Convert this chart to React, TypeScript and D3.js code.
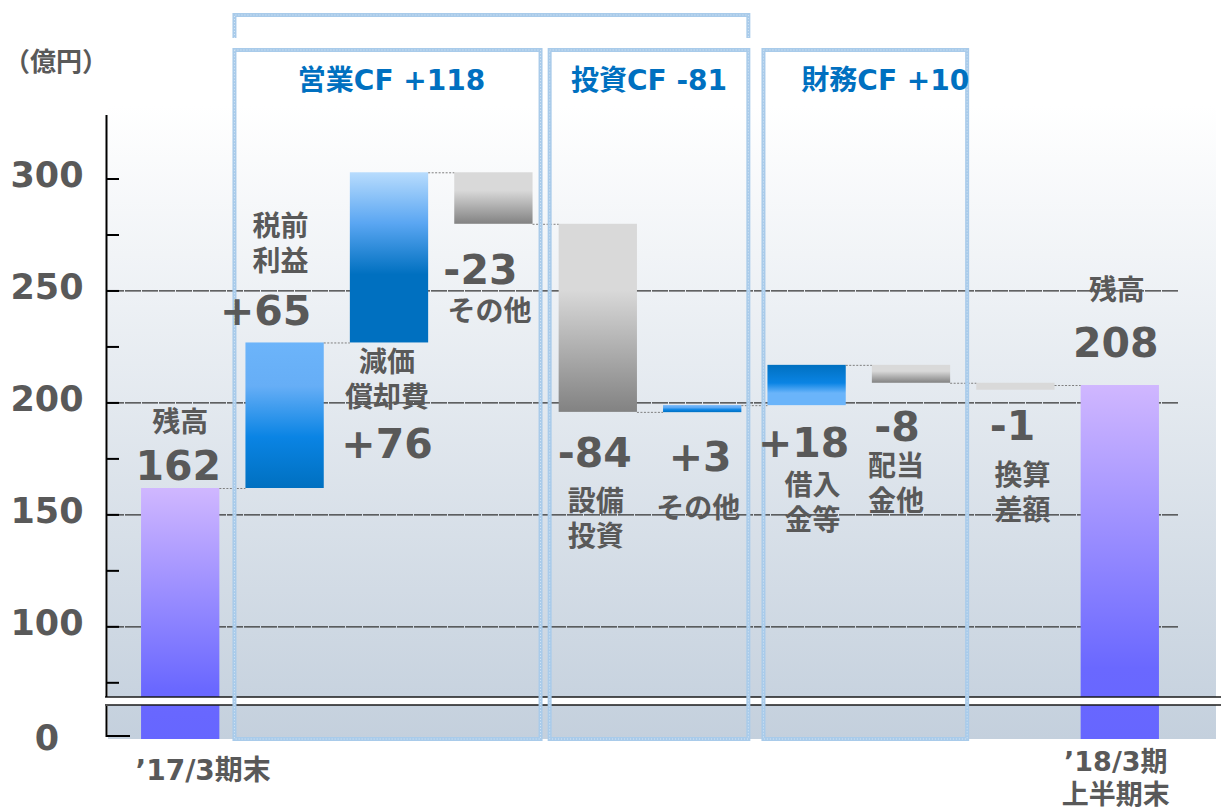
import React, { useLayoutEffect } from "react";
import * as d3 from "d3";

// ---------- data ----------
const categories = [
  "’17/3期末",
  "税前利益",
  "減価償却費",
  "その他(営業)",
  "設備投資",
  "その他(投資)",
  "借入金等",
  "配当金他",
  "換算差額",
  "’18/3期上半期末",
];
const values = [162, 65, 76, -23, -84, 3, 18, -8, -1, 208];
const isTotal = [true, false, false, false, false, false, false, false, false, true];
const valueLabels = ["162", "+65", "+76", "-23", "-84", "+3", "+18", "-8", "-1", "208"];
const barLabelLines = [
  ["残高"],
  ["税前", "利益"],
  ["減価", "償却費"],
  ["その他"],
  ["設備", "投資"],
  ["その他"],
  ["借入", "金等"],
  ["配当", "金他"],
  ["換算", "差額"],
  ["残高"],
];
const xAxisLabels: string[][] = [
  ["’17/3期末"],
  [],
  [],
  [],
  [],
  [],
  [],
  [],
  [],
  ["’18/3期", "上半期末"],
];
const groupNames = ["営業CF +118", "投資CF -81", "財務CF +10"];
const groupFirst = [1, 4, 6];
const groupLast = [3, 5, 7];
const yMajorTicks = [100, 150, 200, 250, 300];
const yMinorTicks = [75, 125, 175, 225, 275];
const gridValues = [100, 150, 200, 250];
const unitLabel = "（億円）";

// ---------- layout (annotation placement) ----------
const numLayout = [
  { dx: -2, cy: 465 },
  { dx: -19, cy: 310 },
  { dx: -2, cy: 443 },
  { dx: -13, cy: 269 },
  { dx: -3, cy: 452 },
  { dx: -2, cy: 456 },
  { dx: -3, cy: 442 },
  { dx: -14, cy: 426 },
  { dx: -3, cy: 425 },
  { dx: -4, cy: 342 },
];
const textLayout = [
  { dx: 0, cy: 421 },
  { dx: -4, cy: 225 },
  { dx: -2, cy: 361 },
  { dx: -4, cy: 310 },
  { dx: -2, cy: 500 },
  { dx: -4, cy: 507 },
  { dx: 6, cy: 484 },
  { dx: -15, cy: 465 },
  { dx: 7, cy: 474 },
  { dx: -3, cy: 289 },
];
const groupLabelDx = [4, 0, 20];
const boxPadL = [11, 9, 4];
const boxPadR = [8, 7, 17];

const W = 1221;
const H = 810;
const GRAY = "#595959";
const BLUE = "#0070c0";
const LATIN = "'DejaVu Sans', 'Noto Sans CJK JP', sans-serif";
const CJK = "'Noto Sans CJK JP', 'DejaVu Sans', sans-serif";
const MIN_BAR_PX = 7;

export default function App() {
  useLayoutEffect(() => {
    document.body.style.margin = "0";
    document.body.style.overflow = "hidden";
  }, []);

  const idx = d3.range(categories.length);
  const x = d3
    .scaleBand<number>()
    .domain(idx)
    .range([128, 1172])
    .paddingInner(0.25)
    .paddingOuter(0.125);
  const bw = x.bandwidth();
  const y = d3.scaleLinear().domain([0, 70, 300]).range([739, 694, 179]);

  // running totals
  const starts: number[] = [];
  const ends: number[] = [];
  let run = 0;
  values.forEach((v, i) => {
    if (isTotal[i]) {
      starts.push(0);
      ends.push(v);
      run = v;
    } else {
      starts.push(run);
      run = run + v;
      ends.push(run);
    }
  });

  const fillFor = (i: number) => {
    const v = values[i];
    if (isTotal[i]) return "url(#gTotal)";
    if (v < 0) return Math.abs(v) <= 1 ? "#d9d9d9" : "url(#gDown)";
    if (i === 2) return "url(#gUpB)";
    if (i === 6) return "url(#gUpFlip)";
    return "url(#gUpA)";
  };

  const plotLeft = 108;
  const plotRight = 1216;
  const plotTop = 105;
  const plotBottom = 739;
  const breakTop = 697;
  const breakBottom = 705;
  const axisX = 106.5;
  const zeroTickY = y(0) - 3;

  const boxes = groupNames.map((name, g) => {
    const left = (x(groupFirst[g]) as number) - boxPadL[g];
    const right = (x(groupLast[g]) as number) + bw + boxPadR[g];
    return { name, left, right, top: 50, bottom: 739 };
  });

  const boxStroke = (d: string, key: string) => (
    <g key={key}>
      <path d={d} fill="none" stroke="#a9cbea" strokeWidth={4} />
      <path
        d={d}
        fill="none"
        stroke="#ffffff"
        strokeWidth={1}
        strokeDasharray="1,2"
        opacity={0.55}
      />
    </g>
  );

  return (
    <svg width={W} height={H} style={{ display: "block" }}>
      <defs>
        <linearGradient id="gBg" x1="0" y1="0" x2="0" y2="1">
          <stop offset="0" stopColor="#ffffff" />
          <stop offset="1" stopColor="#c4d0dd" />
        </linearGradient>
        <linearGradient id="gTotal" x1="0" y1="0" x2="0" y2="1">
          <stop offset="0" stopColor="#d0b7ff" />
          <stop offset="0.8" stopColor="#6a68ff" />
          <stop offset="1" stopColor="#6666ff" />
        </linearGradient>
        <linearGradient id="gUpA" x1="0" y1="0" x2="0" y2="1">
          <stop offset="0" stopColor="#6cb4fa" />
          <stop offset="0.3" stopColor="#66aef6" />
          <stop offset="0.65" stopColor="#0a84e4" />
          <stop offset="1" stopColor="#0070c0" />
        </linearGradient>
        <linearGradient id="gUpB" x1="0" y1="0" x2="0" y2="1">
          <stop offset="0" stopColor="#b8dcfd" />
          <stop offset="0.3" stopColor="#5aa6f2" />
          <stop offset="0.6" stopColor="#0070c0" />
          <stop offset="1" stopColor="#0070c0" />
        </linearGradient>
        <linearGradient id="gUpFlip" x1="0" y1="0" x2="0" y2="1">
          <stop offset="0" stopColor="#0070c0" />
          <stop offset="0.45" stopColor="#0a84e4" />
          <stop offset="0.7" stopColor="#6ab4fa" />
          <stop offset="1" stopColor="#6ab4fa" />
        </linearGradient>
        <linearGradient id="gDown" x1="0" y1="0" x2="0" y2="1">
          <stop offset="0" stopColor="#d9d9d9" />
          <stop offset="0.35" stopColor="#d9d9d9" />
          <stop offset="1" stopColor="#828282" />
        </linearGradient>
      </defs>

      <rect x={0} y={0} width={W} height={H} fill="#ffffff" />
      {/* plot background */}
      <rect
        x={plotLeft}
        y={plotTop}
        width={plotRight - plotLeft}
        height={plotBottom - plotTop}
        fill="url(#gBg)"
      />

      {/* gridlines */}
      {gridValues.map((v) => (
        <line
          key={"g" + v}
          x1={plotLeft}
          x2={1178}
          y1={y(v)}
          y2={y(v)}
          stroke="#333333"
          strokeWidth={1.3}
          strokeDasharray="16,1"
        />
      ))}

      {/* bars */}
      {idx.map((i) => {
        const y0 = y(starts[i]);
        const y1 = y(ends[i]);
        const top = Math.min(y0, y1);
        const h = Math.max(Math.abs(y0 - y1), MIN_BAR_PX);
        return (
          <rect
            key={"b" + i}
            x={x(i)}
            width={bw}
            y={top}
            height={h}
            fill={fillFor(i)}
          />
        );
      })}

      {/* connectors */}
      {idx.slice(0, -1).map((i) => (
        <line
          key={"c" + i}
          x1={(x(i) as number) + bw}
          x2={x(i + 1) as number}
          y1={y(ends[i]) + 0.5}
          y2={y(ends[i]) + 0.5}
          stroke="#7f7f7f"
          strokeWidth={1}
          strokeDasharray="2,1.5"
        />
      ))}

      {/* axis break band */}
      <rect x={105} y={breakTop} width={W - 105} height={breakBottom - breakTop} fill="#ffffff" />
      <line x1={105} x2={W} y1={breakTop} y2={breakTop} stroke="#1a1a1a" strokeWidth={1.5} />
      <line x1={105} x2={W} y1={breakBottom} y2={breakBottom} stroke="#1a1a1a" strokeWidth={1.5} />

      {/* y axis */}
      <line x1={axisX} x2={axisX} y1={115} y2={breakTop} stroke="#000" strokeWidth={2} />
      {[...yMajorTicks, ...yMinorTicks].map((v) => (
        <line
          key={"t" + v}
          x1={axisX}
          x2={119}
          y1={y(v)}
          y2={y(v)}
          stroke="#000"
          strokeWidth={2}
        />
      ))}
      <path
        d={`M${axisX},${breakBottom + 1}V${zeroTickY}H130`}
        fill="none"
        stroke="#000"
        strokeWidth={2}
      />
      {yMajorTicks.map((v) => (
        <text
          key={"yl" + v}
          x={47}
          y={y(v) - 5 + 12.8}
          textAnchor="middle"
          fontFamily={LATIN}
          fontWeight="bold"
          fontSize={35}
          fill={GRAY}
        >
          {v}
        </text>
      ))}
      <text
        x={47}
        y={zeroTickY + 1 + 12.8}
        textAnchor="middle"
        fontFamily={LATIN}
        fontWeight="bold"
        fontSize={35}
        fill={GRAY}
      >
        0
      </text>
      <text
        x={56}
        y={61 + 9.5}
        textAnchor="middle"
        fontFamily={CJK}
        fontWeight="bold"
        fontSize={26}
        fill={GRAY}
      >
        {unitLabel}
      </text>

      {/* group boxes */}
      {boxes.map((b, g) => (
        <g key={"box" + g}>
          {boxStroke(
            `M${b.left},${b.top}H${b.right}V${b.bottom}H${b.left}Z`,
            "bs" + g
          )}
          <text
            x={(b.left + b.right) / 2 + groupLabelDx[g]}
            y={90}
            textAnchor="middle"
            fontFamily={LATIN}
            fontWeight="bold"
            fontSize={28}
            fill={BLUE}
          >
            {b.name}
          </text>
        </g>
      ))}
      {/* bracket over operating + investing */}
      {boxStroke(`M${boxes[0].left},38V15H${boxes[1].right}V38`, "bracket")}

      {/* value labels */}
      {idx.map((i) => {
        const cx = (x(i) as number) + bw / 2;
        return (
          <g key={"lab" + i}>
            <text
              x={cx + numLayout[i].dx}
              y={numLayout[i].cy + 15}
              textAnchor="middle"
              fontFamily={LATIN}
              fontWeight="bold"
              fontSize={41}
              fill={GRAY}
            >
              {valueLabels[i]}
            </text>
            {barLabelLines[i].map((line, k) => (
              <text
                key={k}
                x={cx + textLayout[i].dx}
                y={textLayout[i].cy + k * 35 + 10.5}
                textAnchor="middle"
                fontFamily={CJK}
                fontWeight="bold"
                fontSize={28}
                fill={GRAY}
              >
                {line}
              </text>
            ))}
          </g>
        );
      })}

      {/* x axis labels */}
      {idx.map((i) =>
        xAxisLabels[i].map((line, k) => {
          const cx = (x(i) as number) + bw / 2;
          const n = xAxisLabels[i].length;
          const cy = n === 1 ? 770 : 761 + k * 33;
          return (
            <text
              key={"xl" + i + "-" + k}
              x={n === 1 ? cx + 23 : cx - 4}
              y={cy + 10}
              textAnchor="middle"
              fontFamily={LATIN}
              fontWeight="bold"
              fontSize={n === 1 ? 28 : 27}
              fill={GRAY}
            >
              {line}
            </text>
          );
        })
      )}
    </svg>
  );
}
